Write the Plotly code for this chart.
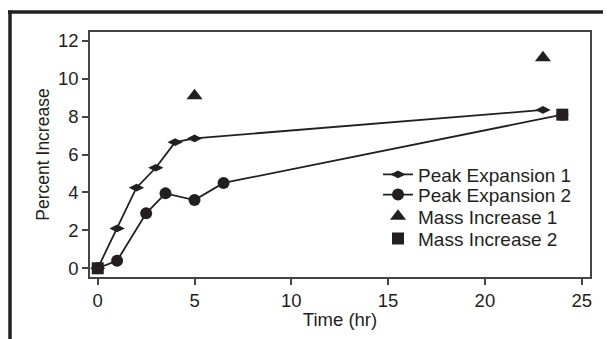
import plotly.graph_objects as go

# Data
pe1_t = [0, 1, 2, 3, 4, 5, 23]
pe1_v = [0, 2.1, 4.25, 5.3, 6.65, 6.85, 8.35]
pe2_t = [0, 1, 2.5, 3.5, 5, 6.5, 24]
pe2_v = [0, 0.4, 2.9, 3.95, 3.6, 4.5, 8.1]
mi1_t = [5, 23]
mi1_v = [9.1, 11.1]
mi2_t = [0, 24]
mi2_v = [0, 8.1]

x_ticks = [0, 5, 10, 15, 20, 25]
y_ticks = [0, 2, 4, 6, 8, 10, 12]

INK = "#231f20"
FONT = "Liberation Sans, Arial, sans-serif"
LEG_FONT = dict(family=FONT, size=19, color=INK)

fig = go.Figure()
fig.add_trace(go.Scatter(x=pe1_t, y=pe1_v, mode="lines+markers", name="Peak Expansion 1",
                         line=dict(color=INK, width=1.8), legend="legend",
                         marker=dict(symbol="diamond-wide", size=11, color=INK)))
fig.add_trace(go.Scatter(x=pe2_t, y=pe2_v, mode="lines+markers", name="Peak Expansion 2",
                         line=dict(color=INK, width=1.8), legend="legend2",
                         marker=dict(symbol="circle", size=12, color=INK)))
fig.add_trace(go.Scatter(x=mi1_t, y=mi1_v, mode="markers", name="Mass Increase 1",
                         legend="legend3",
                         marker=dict(symbol="triangle-up", size=14, color=INK)))
fig.add_trace(go.Scatter(x=mi2_t, y=mi2_v, mode="markers", name="Mass Increase 2",
                         legend="legend4",
                         marker=dict(symbol="square", size=12, color=INK)))

axis_common = dict(showline=True, mirror=True, linecolor="#444", linewidth=1.5,
                   ticks="outside", ticklen=6, tickwidth=1.5, tickcolor="#444",
                   showgrid=False, zeroline=False,
                   tickfont=dict(family=FONT, size=18.5, color=INK))

def leg(y):
    return dict(x=0.576, y=y, xanchor="left", yanchor="middle",
                bgcolor="rgba(0,0,0,0)", font=LEG_FONT, borderwidth=0)

fig.update_layout(
    width=603, height=331,
    margin=dict(l=82, r=21, t=24, b=56),
    paper_bgcolor="white", plot_bgcolor="white",
    font=dict(family=FONT, color=INK),
    xaxis=dict(range=[-0.4, 25.43], tickvals=x_ticks,
               title=dict(text="Time (hr)", font=dict(family=FONT, size=18.5, color=INK), standoff=3),
               **axis_common),
    yaxis=dict(range=[-0.46, 12.46], tickvals=y_ticks,
               title=dict(text="Percent Increase", font=dict(family=FONT, size=17.5, color=INK), standoff=4),
               **axis_common),
    legend=leg(0.418),
    legend2=leg(0.336),
    legend3=leg(0.247),
    legend4=leg(0.157),
    showlegend=True,
    shapes=[
        dict(type="line", xref="paper", yref="paper", x0=-0.164, x1=1.1, y0=1.0817, y1=1.0817,
             line=dict(color=INK, width=3.5)),
        dict(type="line", xref="paper", yref="paper", x0=-0.16, x1=-0.16, y0=1.088, y1=-0.3,
             line=dict(color=INK, width=3.5)),
    ],
)

fig.write_html("out.html")
